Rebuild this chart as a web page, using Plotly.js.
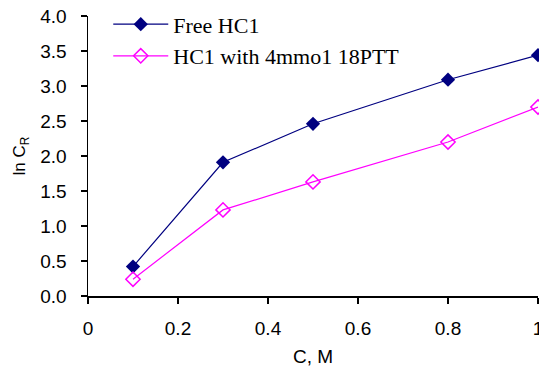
<!DOCTYPE html>
<html><head><meta charset="utf-8">
<script src="https://cdn.plot.ly/plotly-3.0.1.min.js"></script>
<style>html,body{margin:0;padding:0;background:#fff;}#c{width:539px;height:367px;}</style>
</head><body><div id="c"></div>
<script>
const concentration = [0.1, 0.3, 0.5, 0.8, 1.0];
const freeHCl = [0.42, 1.91, 2.46, 3.09, 3.44];
const hclWithPTT = [0.24, 1.23, 1.63, 2.20, 2.70];
const seriesNames = ["Free HC1", "HC1 with 4mmo1 18PTT"];
const xTicks = [0, 0.2, 0.4, 0.6, 0.8, 1];
const xTickLabels = ["0", "0.2", "0.4", "0.6", "0.8", "1"];
const yTicks = [0, 0.5, 1, 1.5, 2, 2.5, 3, 3.5, 4];
const yTickLabels = ["0.0", "0.5", "1.0", "1.5", "2.0", "2.5", "3.0", "3.5", "4.0"];

const traces = [
  {x: concentration, y: freeHCl, name: seriesNames[0], type: "scatter", mode: "lines+markers",
   line: {color: "#000080", width: 1.2}, marker: {symbol: "diamond", size: 11, color: "#000080"}, cliponaxis: false},
  {x: concentration, y: hclWithPTT, name: seriesNames[1], type: "scatter", mode: "lines+markers",
   line: {color: "#FF00FF", width: 1.2}, marker: {symbol: "diamond-open", size: 11, color: "#FF00FF", line: {width: 1.5}}, cliponaxis: false}
];
const axisFont = {family: "Liberation Sans, Arial, sans-serif", size: 19, color: "#000"};
const layout = {
  width: 539, height: 367,
  margin: {l: 88, r: 1, t: 16, b: 71},
  paper_bgcolor: "#fff", plot_bgcolor: "#fff",
  showlegend: true,
  legend: {x: 0.045, y: 1.045, xanchor: "left", yanchor: "top", bgcolor: "rgba(0,0,0,0)", itemwidth: 55,
    font: {family: "Liberation Serif, Times New Roman, serif", size: 22, color: "#000"}, tracegroupgap: 0},
  xaxis: {range: [0, 1], tickvals: xTicks, ticktext: xTickLabels, showgrid: false, zeroline: false,
    showline: true, linecolor: "#000", linewidth: 1.5, ticks: "outside", ticklen: 6, tickwidth: 1.5, tickcolor: "#000",
    ticklabeloverflow: "allow", ticklabelstandoff: 9,
    tickfont: axisFont, title: {text: "C, M", font: axisFont, standoff: 12}},
  yaxis: {range: [0, 4], tickvals: yTicks, ticktext: yTickLabels, showgrid: false, zeroline: false,
    showline: true, linecolor: "#000", linewidth: 1.5, ticks: "outside", ticklen: 6, tickwidth: 1.5, tickcolor: "#000",
    ticklabeloverflow: "allow", ticklabelstandoff: 10,
    tickfont: axisFont, title: {text: "ln C<sub>R</sub>", font: {family: axisFont.family, size: 17, color: "#000"}, standoff: 10}}
};
Plotly.newPlot("c", traces, layout, {staticPlot: true, displayModeBar: false});
</script></body></html>
